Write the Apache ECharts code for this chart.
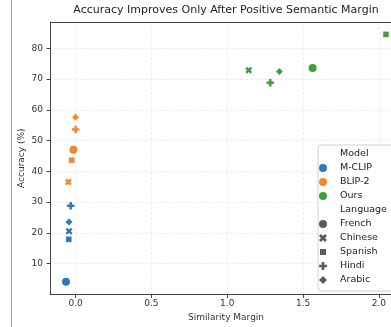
<!DOCTYPE html>
<html>
<head>
<meta charset="utf-8">
<script src="https://cdn.jsdelivr.net/npm/echarts@6/dist/echarts.min.js"></script>
<style>html,body{margin:0;padding:0;background:#fff}#c{width:391px;height:327px}</style>
</head>
<body>
<div id="c"></div>
<script>
// ---- data (order of languages: French, Chinese, Spanish, Hindi, Arabic) ----
const models = ['M-CLIP', 'BLIP-2', 'Ours'];
const languages = ['French', 'Chinese', 'Spanish', 'Hindi', 'Arabic'];
const mclipMargin = [-0.063, -0.043, -0.045, -0.032, -0.043];
const mclipAcc    = [4.1, 20.5, 17.9, 28.8, 23.5];
const blipMargin  = [-0.014, -0.047, -0.025, 0.001, 0.000];
const blipAcc     = [47.0, 36.5, 43.6, 53.6, 57.6];
const oursMargin  = [1.563, 1.142, 2.047, 1.284, 1.344];
const oursAcc     = [73.6, 72.8, 84.5, 68.8, 72.4];
const xTicks = [0, 0.5, 1.0, 1.5, 2.0];
const yTicks = [10, 20, 30, 40, 50, 60, 70, 80];

const modelColors = ['#2f78b7', '#f5862b', '#3ba23c'];
const FONT = 'DejaVu Sans';

const plusPath = 'path://M-1,-3H1V-1H3V1H1V3H-1V1H-3V-1H-1Z';
const xPath = 'path://M1.414,-2.828L2.828,-1.414L1.414,0L2.828,1.414L1.414,2.828L0,1.414L-1.414,2.828L-2.828,1.414L-1.414,0L-2.828,-1.414L-1.414,-2.828L0,-1.414Z';
const diamondPath = 'path://M0,-4L4,0L0,4L-4,0Z';
const langSymbol = { French: 'circle', Chinese: xPath, Spanish: 'rect', Hindi: plusPath, Arabic: diamondPath };
const langSize   = { French: 8, Chinese: 7, Spanish: 5.6, Hindi: 7.5, Arabic: 7 };

const allX = mclipMargin.concat(blipMargin, oursMargin);
const allY = mclipAcc.concat(blipAcc, oursAcc);
const xr = Math.max(...allX) - Math.min(...allX);
const yr = Math.max(...allY) - Math.min(...allY);
const xMin = Math.min(...allX) - 0.05 * xr, xMax = Math.max(...allX) + 0.05 * xr;
const yMin = 0, yMax = Math.max(...allY) + 0.05 * yr;

function modelSeries(name, xs, ys, color) {
  return {
    type: 'scatter', name: name,
    itemStyle: { color: color, opacity: 1 },
    data: languages.map((l, i) => ({
      value: [xs[i], ys[i]],
      symbol: langSymbol[l], symbolSize: langSize[l]
    }))
  };
}

const series = [
  { type: 'scatter', name: 'Model', data: [], itemStyle: { color: 'rgba(0,0,0,0)' } },
  modelSeries('M-CLIP', mclipMargin, mclipAcc, modelColors[0]),
  modelSeries('BLIP-2', blipMargin, blipAcc, modelColors[1]),
  modelSeries('Ours', oursMargin, oursAcc, modelColors[2]),
  { type: 'scatter', name: 'Language', data: [], itemStyle: { color: 'rgba(0,0,0,0)' } }
].concat(languages.map(l => ({ type: 'scatter', name: l, data: [], symbol: langSymbol[l], itemStyle: { color: '#333' } })));

const legendIcons = {
  French: 'circle', Chinese: xPath,
  Spanish: 'path://M-4,-4M4,4M-3,-3H3V3H-3Z',
  Hindi: plusPath, Arabic: diamondPath
};
const legendData = [
  { name: 'Model', icon: 'circle', itemStyle: { color: 'rgba(0,0,0,0)' } },
  ...models.map((m, i) => ({ name: m, icon: 'circle', itemStyle: { color: modelColors[i] } })),
  { name: 'Language', icon: 'circle', itemStyle: { color: 'rgba(0,0,0,0)' } },
  ...languages.map(l => ({ name: l, icon: legendIcons[l], itemStyle: { color: '#333' } }))
];

const chart = echarts.init(document.getElementById('c'), null, { renderer: 'canvas' });
chart.setOption({
  animation: false,
  backgroundColor: '#fff',
  textStyle: { fontFamily: FONT },
  title: {
    text: 'Accuracy Improves Only After Positive Semantic Margin',
    left: 226, top: 5, padding: 0, textAlign: 'center',
    textStyle: { fontFamily: FONT, fontSize: 11, fontWeight: 'normal', color: '#222' }
  },
  grid: { left: 50, top: 22, width: 352, height: 272.4, containLabel: false, outerBoundsMode: 'none', show: false },
  xAxis: {
    type: 'value', min: xMin, max: xMax,
    name: 'Similarity Margin', nameLocation: 'middle', nameGap: 19, nameMoveOverlap: false,
    nameTextStyle: { fontFamily: FONT, fontSize: 9, color: '#333', verticalAlign: 'top' },
    axisLine: { show: true, onZero: false, lineStyle: { color: '#444', width: 1 } },
    axisTick: { show: true, length: 3.5, lineStyle: { color: '#444' }, customValues: xTicks },
    axisLabel: { show: true, margin: 5, fontFamily: FONT, fontSize: 9, color: '#333', customValues: xTicks,
      formatter: v => Number(v).toFixed(1) },
    splitLine: { show: true, lineStyle: { color: '#e8e8e8', width: 0.8, type: [3, 2] } }
  },
  yAxis: {
    type: 'value', min: yMin, max: yMax,
    name: 'Accuracy (%)', nameLocation: 'middle', nameGap: 24, nameRotate: 90, nameMoveOverlap: false,
    nameTextStyle: { fontFamily: FONT, fontSize: 9, color: '#333' },
    axisLine: { show: true, onZero: false, lineStyle: { color: '#444', width: 1 } },
    axisTick: { show: true, length: 3.5, lineStyle: { color: '#444' }, customValues: yTicks },
    axisLabel: { show: true, margin: 7, fontFamily: FONT, fontSize: 9, color: '#333', customValues: yTicks,
      formatter: v => String(Math.round(v)) },
    splitLine: { show: true, lineStyle: { color: '#e8e8e8', width: 0.8, type: [3, 2] } }
  },
  legend: {
    orient: 'vertical', left: 318, top: 145,
    padding: [4, 8, 6, 1],
    itemWidth: 24, itemHeight: 8, itemGap: 4,
    selectedMode: false,
    backgroundColor: 'rgba(255,255,255,0.85)',
    borderColor: '#d0d0d0', borderWidth: 1, borderRadius: 3,
    textStyle: { fontFamily: FONT, fontSize: 9.5, lineHeight: 10, color: '#222' },
    data: legendData
  },
  graphic: [
    { type: 'line', shape: { x1: 11.5, y1: 0, x2: 11.5, y2: 327 }, style: { stroke: '#999', lineWidth: 1 }, z: 100 },
    { type: 'line', shape: { x1: 50, y1: 22.5, x2: 391, y2: 22.5 }, style: { stroke: '#444', lineWidth: 1 }, z: 100 }
  ],
  series: series
});
</script>
</body>
</html>
